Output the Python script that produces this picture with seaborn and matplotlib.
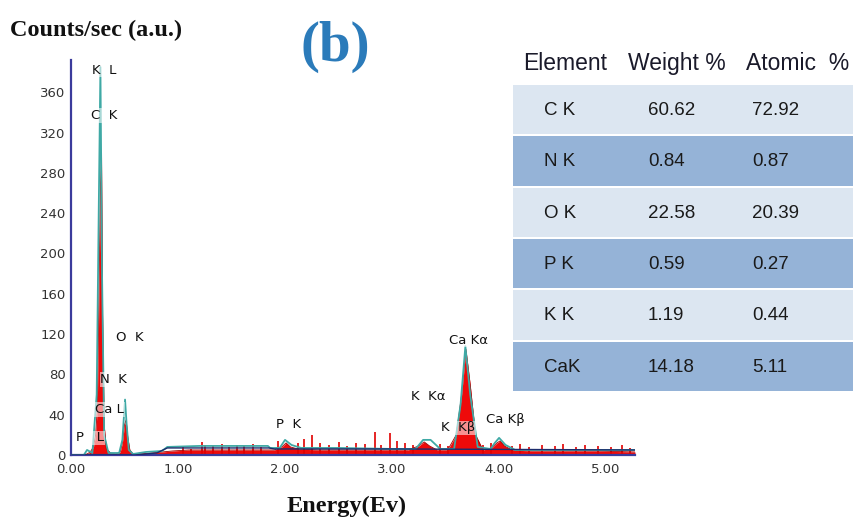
import matplotlib
matplotlib.use("Agg")
import matplotlib.pyplot as plt
import seaborn as sns

# ---------------- data ----------------
energy = [0.00, 0.10, 0.15, 0.18, 0.21, 0.23, 0.245, 0.255, 0.265, 0.275, 0.285, 0.295,
          0.31, 0.33, 0.37, 0.42, 0.46, 0.48, 0.50, 0.515, 0.53, 0.55, 0.58, 0.65, 0.75,
          0.85, 0.95, 1.10, 1.30, 1.50, 1.70, 1.90, 1.97, 2.01, 2.05, 2.12, 2.30, 2.60,
          2.90, 3.15, 3.25, 3.30, 3.35, 3.42, 3.52, 3.60, 3.65, 3.69, 3.73, 3.78, 3.85,
          3.93, 3.98, 4.01, 4.05, 4.12, 4.30, 4.60, 4.90, 5.27]
counts = [0, 0, 1, 3, 8, 20, 45, 110, 190, 265, 300, 140,
          30, 6, 2, 1, 3, 12, 30, 35, 18, 5, 1, 1, 2,
          3, 4, 5, 5, 5, 5, 5, 8, 12, 8, 6, 5, 5,
          5, 5, 9, 13, 9, 5, 5, 20, 60, 105, 70, 20, 5,
          7, 12, 14, 9, 5, 4, 4, 4, 3]

fit_energy = [0.00, 0.12, 0.15, 0.20, 0.24, 0.26, 0.275, 0.29, 0.31, 0.35, 0.45, 0.48,
              0.505, 0.52, 0.54, 0.58, 0.70, 0.85, 0.90, 1.20, 1.50, 1.84, 1.86, 1.95,
              2.00, 2.06, 2.15, 2.50, 3.00, 3.22, 3.29, 3.36, 3.45, 3.58, 3.64, 3.685,
              3.73, 3.80, 3.92, 3.96, 4.00, 4.06, 4.15, 4.60, 5.27]
fit_counts = [0, 0, 5, 2, 60, 250, 385, 180, 20, 2, 2, 15,
              55, 30, 5, 1, 3, 4, 8, 9, 9, 9, 7, 7,
              15, 10, 7, 7, 6, 6, 15, 15, 6, 6, 50, 108,
              60, 8, 6, 12, 17, 10, 5, 5, 5]

bg_energy = [0.0, 0.6, 0.8, 0.9, 1.85, 1.9, 3.0, 5.27]
bg_counts = [0, 0, 2, 7, 7, 6, 6, 5]

spike_energy = [1.05, 1.12, 1.22, 1.25, 1.33, 1.41, 1.48, 1.55, 1.62, 1.70, 1.78, 1.93,
                2.12, 2.18, 2.25, 2.33, 2.41, 2.50, 2.58, 2.66, 2.75, 2.84, 2.90, 2.98,
                3.05, 3.12, 3.20, 3.45, 3.52, 3.85, 3.92, 4.12, 4.20, 4.28, 4.40, 4.52,
                4.60, 4.72, 4.80, 4.92, 5.05, 5.15, 5.22]
spike_counts = [8, 6, 13, 10, 9, 11, 8, 10, 9, 11, 8, 14,
                12, 16, 20, 12, 10, 13, 9, 12, 11, 23, 10, 22,
                14, 12, 10, 11, 9, 10, 12, 9, 11, 8, 10, 9,
                11, 8, 10, 9, 8, 10, 7]

peak_labels = ["K  L", "C  K", "O  K", "N  K", "Ca L", "P   L", "P  K",
               "K  Kα", "K  Kβ", "Ca Kα", "Ca Kβ"]
label_energy = [0.31, 0.31, 0.55, 0.40, 0.36, 0.18, 2.03, 3.34, 3.62, 3.71, 4.06]
label_counts = [382, 337, 117, 75, 45, 17, 30, 58, 27, 114, 35]

x_ticks = [0, 1, 2, 3, 4, 5]
x_tick_labels = ["0.00", "1.00", "2.00", "3.00", "4.00", "5.00"]
y_ticks = [0, 40, 80, 120, 160, 200, 240, 280, 320, 360]

elements = ["C K", "N K", "O K", "P K", "K K", "CaK"]
weight_pct = [60.62, 0.84, 22.58, 0.59, 1.19, 14.18]
atomic_pct = [72.92, 0.87, 20.39, 0.27, 0.44, 5.11]
table_headers = ["Element", "Weight %", "Atomic  %"]

# ---------------- figure ----------------
sns.set_style("white")
plt.rcParams['font.family'] = ['DejaVu Sans']

W, H = 854, 520
fig = plt.figure(figsize=(W / 100, H / 100), dpi=100)

ax = fig.add_axes([71 / W, 65 / H, (635 - 71) / W, (455 - 60) / H])
ax.fill_between(energy, counts, color='#ee0a0a', lw=0, zorder=2)
ax.vlines(spike_energy, 0, spike_counts, color='#e00000', lw=1.2, zorder=2)
sns.lineplot(x=energy, y=counts, ax=ax, color='#a00000', lw=0.6, zorder=3)
sns.lineplot(x=fit_energy, y=fit_counts, ax=ax, color='#3fa9a5', lw=1.3, zorder=4)
sns.lineplot(x=bg_energy, y=bg_counts, ax=ax, color='#1c2c6c', lw=1.0, zorder=4)

for lab, xe, yc in zip(peak_labels, label_energy, label_counts):
    ax.text(xe, yc, lab, ha='center', va='center', fontsize=9.5, color='#111111',
            zorder=6, bbox=dict(facecolor='white', alpha=0.55, edgecolor='none', pad=0.6))

ax.set_xlim(0, 5.27)
ax.set_ylim(0, 392)
ax.set_xticks(x_ticks)
ax.set_xticklabels(x_tick_labels)
ax.set_yticks(y_ticks)
ax.tick_params(axis='both', labelsize=9.5, colors='#333333', length=0, pad=4)
ax.tick_params(axis='x', length=2, color='#3b3b9c')
for s in ['top', 'right']:
    ax.spines[s].set_visible(False)
for s in ['left', 'bottom']:
    ax.spines[s].set_color('#3b3b9c')
    ax.spines[s].set_linewidth(1.6)
ax.set_xlabel("")
ax.set_ylabel("")

fig.text(10 / W, 1 - 30 / H, "Counts/sec (a.u.)", ha='left', va='center',
         fontsize=17.5, fontweight='bold', family='Liberation Serif', color='#111111')
fig.text(347 / W, 1 - 506 / H, "Energy(Ev)", ha='center', va='center',
         fontsize=17.5, fontweight='bold', family='Liberation Serif', color='#111111')
fig.text(335 / W, 1 - 47 / H, "(b)", ha='center', va='center',
         fontsize=41, fontweight='bold', family='Liberation Serif', color='#2b7bba')

# ---------------- table ----------------
tab = fig.add_axes([513 / W, (H - 393) / H, 340 / W, 308 / H])
row_colors = ['#dce6f1' if i % 2 == 0 else '#95b3d7' for i in range(len(elements))]
tab.barh(list(range(len(elements))), [1] * len(elements), height=0.96, left=0,
         align='edge', color=row_colors, edgecolor='none')
tab.set_xlim(0, 1)
tab.set_ylim(len(elements), 0)
tab.axis('off')

for i, (el, wp, ap) in enumerate(zip(elements, weight_pct, atomic_pct)):
    yc = i + 0.5
    tab.text(0.091, yc, el, ha='left', va='center', fontsize=13.5,
             family='Liberation Sans', color='#1a1a1a')
    tab.text(0.397, yc, f"{wp:.2f}", ha='left', va='center', fontsize=13.5,
             family='Liberation Sans', color='#1a1a1a')
    tab.text(0.703, yc, f"{ap:.2f}", ha='left', va='center', fontsize=13.5,
             family='Liberation Sans', color='#1a1a1a')

for hx, htxt in zip([0.153, 0.482, 0.838], table_headers):
    tab.text(hx, -0.42, htxt, ha='center', va='center', fontsize=16.5,
             family='Liberation Sans', color='#1a1a2a', clip_on=False)

fig.savefig("out.png", dpi=100)
